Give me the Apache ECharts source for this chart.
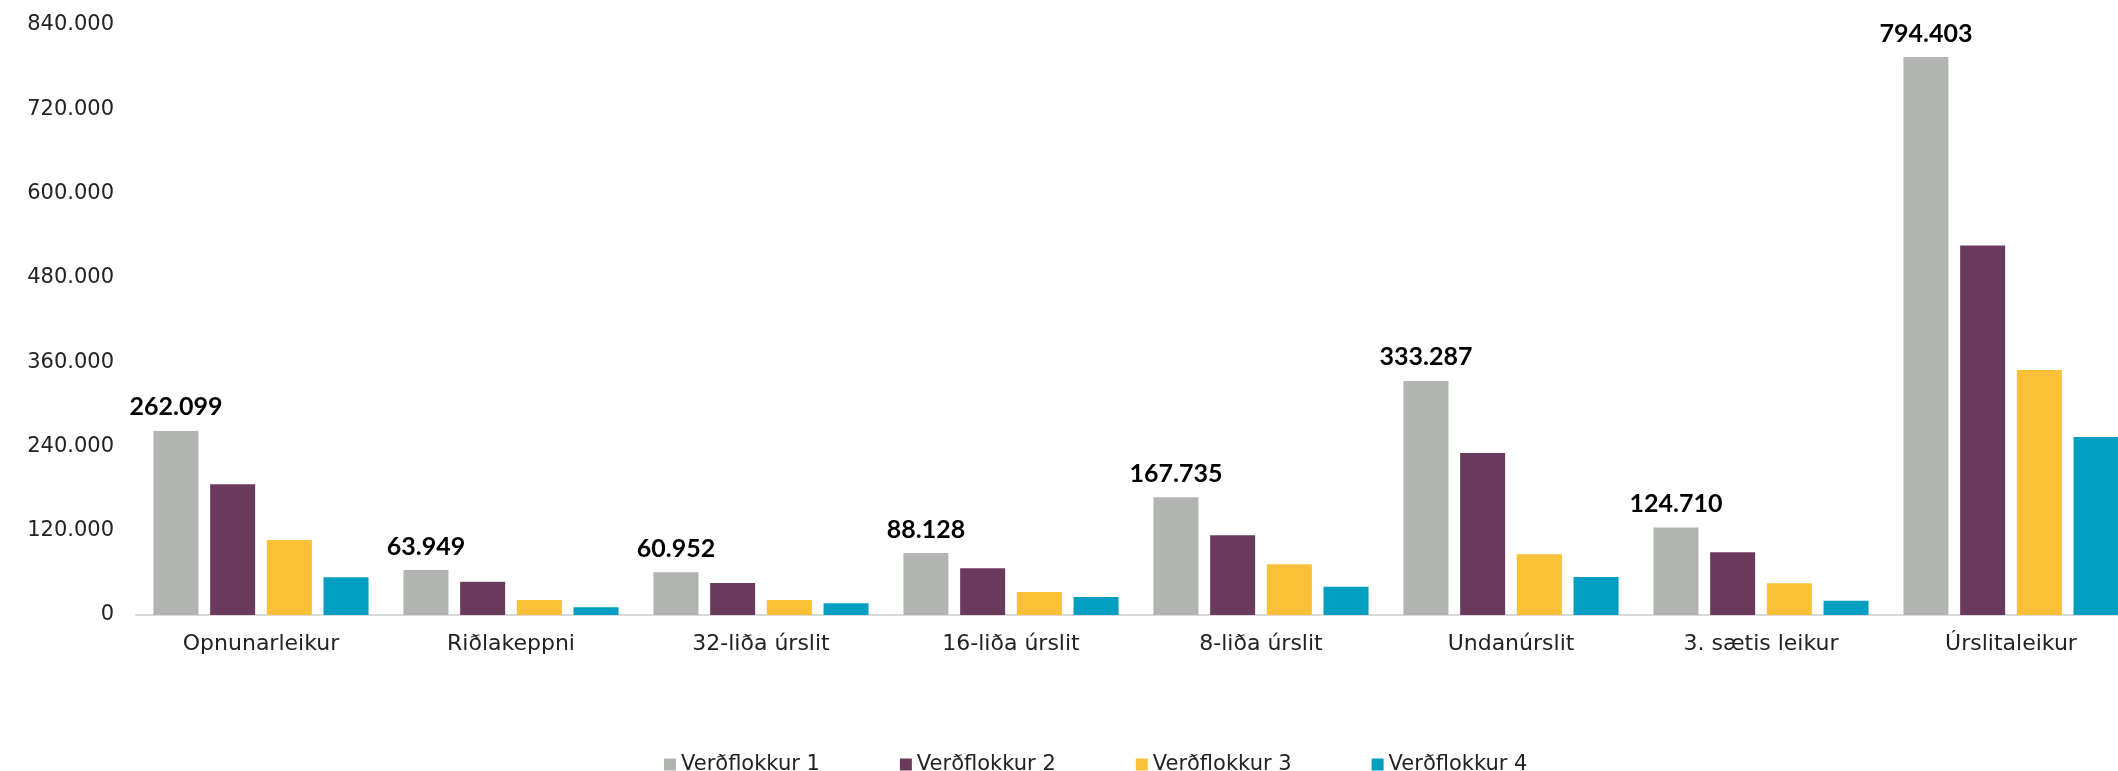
<!DOCTYPE html>
<html>
<head>
<meta charset="utf-8">
<script src="https://cdn.jsdelivr.net/npm/echarts@6/dist/echarts.min.js"></script>
<style>
html,body{margin:0;padding:0;background:#fff;}
#chart{width:2118px;height:771px;}
</style>
</head>
<body>
<div id="chart"></div>
<script>
const categories = ['Opnunarleikur', 'Riðlakeppni', '32-liða úrslit', '16-liða úrslit', '8-liða úrslit', 'Undanúrslit', '3. sætis leikur', 'Úrslitaleikur'];
const seriesNames = ['Verðflokkur 1', 'Verðflokkur 2', 'Verðflokkur 3', 'Verðflokkur 4'];
const flokkur1 = [262099, 63949, 60952, 88128, 167735, 333287, 124710, 794403];
const flokkur2 = [186000, 47400, 45600, 66500, 113400, 230600, 89200, 526200];
const flokkur3 = [106800, 21400, 21400, 32700, 72100, 86400, 45100, 348800];
const flokkur4 = [53700, 11000, 16600, 25600, 40300, 54100, 20400, 253400];
const yTicks = [0, 120000, 240000, 360000, 480000, 600000, 720000, 840000];
const colors = ['#B2B4B2', '#6A3A5C', '#FAC038', '#009EC0'];

function fmt(v) {
  return String(Math.round(v)).replace(/\B(?=(\d{3})+(?!\d))/g, '.');
}

const chart = echarts.init(document.getElementById('chart'), null, {renderer: 'canvas'});
const allData = [flokkur1, flokkur2, flokkur3, flokkur4];
const series = allData.map((d, i) => ({
  name: seriesNames[i],
  type: 'bar',
  data: d,
  barWidth: 45,
  barGap: '26%',
  itemStyle: {color: colors[i]},
  label: i === 0 ? {
    show: true,
    position: 'top',
    distance: 11,
    formatter: p => fmt(p.value),
    fontFamily: 'Lato',
    fontWeight: 'bold',
    fontSize: 25,
    color: '#000'
  } : {show: false}
}));

chart.setOption({
  animation: false,
  backgroundColor: '#fff',
  grid: {left: 136, right: -18, top: 25, bottom: 156, containLabel: false, outerBoundsMode: 'none'},
  legend: {
    data: seriesNames,
    left: 659,
    top: 749,
    icon: 'rect',
    itemWidth: 12,
    itemHeight: 12,
    itemGap: 80,
    textStyle: {fontFamily: 'DejaVu Sans', fontSize: 21, color: '#222'}
  },
  xAxis: {
    type: 'category',
    data: categories,
    axisLine: {show: true, lineStyle: {color: '#D9D9D9', width: 2}},
    axisTick: {show: false},
    axisLabel: {margin: 18, fontFamily: 'DejaVu Sans', fontSize: 22, color: '#222', interval: 0}
  },
  yAxis: {
    type: 'value',
    min: yTicks[0],
    max: yTicks[yTicks.length - 1],
    interval: yTicks[1] - yTicks[0],
    axisLine: {show: false},
    axisTick: {show: false},
    splitLine: {show: false},
    axisLabel: {margin: 22, fontFamily: 'DejaVu Sans', fontSize: 21, color: '#222', formatter: v => fmt(v)}
  },
  series: series
});
</script>
</body>
</html>
